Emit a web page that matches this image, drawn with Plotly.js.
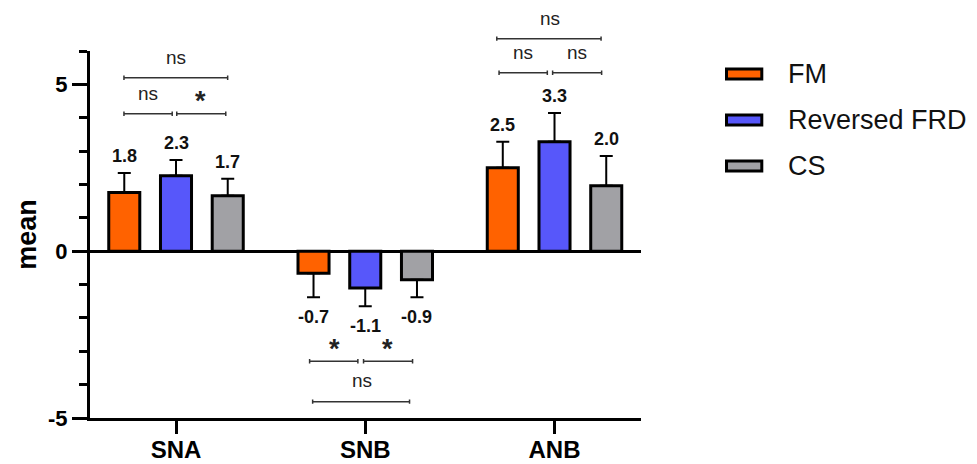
<!DOCTYPE html>
<html>
<head>
<meta charset="utf-8">
<script src="https://cdn.plot.ly/plotly-3.0.1.min.js"></script>
<style>html,body{margin:0;padding:0;background:#fff;}#chart{width:977px;height:464px;}</style>
</head>
<body>
<div id="chart"></div>
<script>
// ---- data ----
const categories = ['SNA', 'SNB', 'ANB'];
const seriesNames = ['FM', 'Reversed FRD', 'CS'];
const fmMean = [1.76, -0.66, 2.50];
const fmErr = [0.58, 0.72, 0.78];
const rfrdMean = [2.26, -1.10, 3.28];
const rfrdErr = [0.47, 0.55, 0.86];
const csMean = [1.66, -0.86, 1.96];
const csErr = [0.51, 0.52, 0.89];
const colors = ['#FF6200', '#5757FA', '#A1A1A5'];
const yTickVals = [-5, 0, 5];
const yTickText = ['-5', '0', '5'];

// significance comparisons: [category, fromSeries, toSeries, label]
const comparisons = [
  [0, 0, 2, 'ns'], [0, 0, 1, 'ns'], [0, 1, 2, '*'],
  [1, 0, 1, '*'], [1, 1, 2, '*'], [1, 0, 2, 'ns'],
  [2, 0, 2, 'ns'], [2, 0, 1, 'ns'], [2, 1, 2, 'ns']
];

// ---- layout params ----
const FONT = 'Liberation Sans, Arial, sans-serif';
const NARROW = 'Liberation Sans Narrow, Arial Narrow, Liberation Sans, Arial, sans-serif';
const xRange = [-0.4544, 2.457];
const yRange = [-5, 6];
const bargap = 0.18;
const slot = (1 - bargap) / 3;
const means = [fmMean, rfrdMean, csMean];
const errs = [fmErr, rfrdErr, csErr];

const traces = means.map((m, j) => ({
  type: 'bar',
  x: categories.map((c, i) => i),
  y: m,
  name: seriesNames[j],
  marker: {color: colors[j], line: {color: '#000', width: 3}},
  error_y: {
    type: 'data', symmetric: false,
    array: m.map((v, i) => v >= 0 ? errs[j][i] : 0),
    arrayminus: m.map((v, i) => v < 0 ? errs[j][i] : 0),
    color: '#000', thickness: 2, width: 6.5
  },
  hoverinfo: 'none'
}));

const toPX = x => (x - xRange[0]) / (xRange[1] - xRange[0]);
const toPY = y => (y - yRange[0]) / (yRange[1] - yRange[0]);
const barX = (i, j) => i + (j - 1) * slot;

const annotations = [];
const shapes = [];

// value labels
means.forEach((m, j) => m.forEach((v, i) => {
  const pos = v >= 0;
  annotations.push({
    xref: 'x', yref: 'y', x: barX(i, j), y: pos ? v + errs[j][i] : v - errs[j][i],
    yshift: pos ? 17 : -20, text: '<b>' + v.toFixed(1) + '</b>', showarrow: false,
    xanchor: 'center', yanchor: 'middle',
    font: {family: NARROW, size: 18, color: '#111'}
  });
}));

// bracket geometry (data units) per comparison
const bracketGeom = [
  // [x0, x1, yLine, xText, yText]
  [-0.275, 0.273, 5.20, 0.0, 5.80],
  [-0.275, -0.020, 4.12, -0.146, 4.73],
  [0.004, 0.263, 4.12, 0.132, 4.70],
  [0.706, 0.961, -3.30, 0.836, -2.73],
  [0.991, 1.250, -3.30, 1.115, -2.73],
  [0.722, 1.234, -4.51, 0.983, -3.88],
  [1.695, 2.246, 6.37, 1.976, 6.97],
  [1.707, 1.962, 5.35, 1.834, 5.95],
  [1.990, 2.249, 5.35, 2.119, 5.95]
];
const cap = 0.006;
comparisons.forEach((c, k) => {
  const g = bracketGeom[k];
  const x0 = toPX(g[0]), x1 = toPX(g[1]), y = toPY(g[2]);
  shapes.push({
    type: 'path', xref: 'paper', yref: 'paper',
    path: `M${x0},${y - cap}L${x0},${y + cap}M${x0},${y}L${x1},${y}M${x1},${y - cap}L${x1},${y + cap}`,
    line: {color: '#333', width: 1.5}
  });
  const star = c[3] === '*';
  annotations.push({
    xref: 'paper', yref: 'paper', x: toPX(g[3]), y: toPY(g[4]),
    yshift: star ? -7 : 0,
    text: star ? '<b>*</b>' : c[3], showarrow: false, xanchor: 'center', yanchor: 'middle',
    font: {family: FONT, size: star ? 27 : 19, color: '#222'}
  });
});

// custom legend (pixel -> paper)
const L = 90, R = 641, T = 51, B = 418;
const ppx = p => (p - L) / (R - L);
const ppy = p => (B - p) / (B - T);
seriesNames.forEach((n, j) => {
  const cy = 74 + j * 46;
  shapes.push({
    type: 'rect', xref: 'paper', yref: 'paper',
    x0: ppx(726.5), x1: ppx(761.8), y0: ppy(cy - 5), y1: ppy(cy + 5),
    fillcolor: colors[j], line: {color: '#000', width: 3}
  });
  annotations.push({
    xref: 'paper', yref: 'paper', x: ppx(786), y: ppy(cy), text: n, showarrow: false,
    xanchor: 'left', yanchor: 'middle', font: {family: FONT, size: 27, color: '#111'}
  });
});

const layout = {
  width: 977, height: 464,
  margin: {l: L, r: 977 - R, t: T, b: 464 - B, pad: 0},
  paper_bgcolor: '#fff', plot_bgcolor: '#fff',
  barmode: 'group', bargap: bargap, bargroupgap: 0.40,
  showlegend: false,
  font: {family: FONT, color: '#000'},
  xaxis: {
    range: xRange, tickmode: 'array', tickvals: [0, 1, 2], ticktext: categories,
    ticks: 'outside', ticklen: 13, tickwidth: 3, tickcolor: '#000',
    showline: true, linewidth: 3, linecolor: '#000',
    showgrid: false, zeroline: false, ticklabelstandoff: -5,
    tickfont: {family: FONT, size: 24, weight: 'bold', color: '#000'}
  },
  yaxis: {
    range: yRange, tickmode: 'array', tickvals: yTickVals, ticktext: yTickText,
    ticks: 'outside', ticklen: 15, tickwidth: 3, tickcolor: '#000',
    showline: true, linewidth: 3, linecolor: '#000',
    showgrid: false, zeroline: true, zerolinewidth: 3, zerolinecolor: '#000',
    tickfont: {family: FONT, size: 22, weight: 'bold', color: '#000'},
    minor: {tickmode: 'linear', dtick: 1, tick0: 0, ticks: 'outside', ticklen: 8, tickwidth: 3, tickcolor: '#000', showgrid: false},
    title: {text: 'mean', standoff: 4, font: {family: FONT, size: 27, weight: 'bold', color: '#000'}}
  },
  shapes: shapes,
  annotations: annotations
};

Plotly.newPlot('chart', traces, layout, {staticPlot: true, displayModeBar: false});
</script>
</body>
</html>
